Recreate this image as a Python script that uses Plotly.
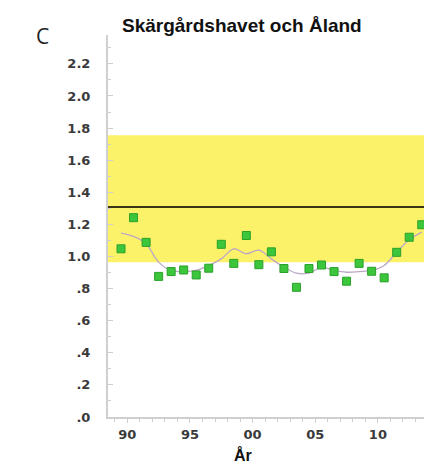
import plotly.graph_objects as go

# Data
years = list(range(1989, 2014))
values = [1.048, 1.242, 1.088, 0.876, 0.906, 0.916, 0.885, 0.927, 1.076, 0.957, 1.131, 0.949,
          1.029, 0.925, 0.808, 0.925, 0.947, 0.906, 0.846, 0.957, 0.908, 0.867, 1.026, 1.120, 1.198]
smooth = [1.146, 1.125, 1.079, 0.965, 0.913, 0.906, 0.913, 0.944, 0.985, 1.048, 1.017, 1.040,
          0.985, 0.933, 0.896, 0.896, 0.933, 0.913, 0.902, 0.906, 0.913, 0.944, 1.027, 1.104, 1.152]
band_low, band_high = 0.964, 1.756
ref_line = 1.308
x_ticks = [1990, 1995, 2000, 2005, 2010]
x_ticktext = ["90", "95", "00", "05", "10"]
y_ticks = [0.0, 0.2, 0.4, 0.6, 0.8, 1.0, 1.2, 1.4, 1.6, 1.8, 2.0, 2.2]
y_ticktext = [".0", ".2", ".4", ".6", ".8", "1.0", "1.2", "1.4", "1.6", "1.8", "2.0", "2.2"]

xpos = [y + 0.5 for y in years]  # mid-year positions

fig = go.Figure()
fig.add_shape(type="rect", xref="paper", yref="y", x0=0, x1=1, y0=band_low, y1=band_high,
              fillcolor="#fbf26a", line_width=0, layer="below")
fig.add_shape(type="line", xref="paper", yref="y", x0=0, x1=1, y0=ref_line, y1=ref_line,
              line=dict(color="#3a3410", width=2))
fig.add_trace(go.Scatter(x=xpos, y=smooth, mode="lines", line=dict(color="#bba8c4", width=1.3, shape="spline"),
                         hoverinfo="skip"))
fig.add_trace(go.Scatter(x=xpos, y=values, mode="markers",
                         marker=dict(symbol="square", size=8, color="#3cc63c",
                                     line=dict(color="#2aa02a", width=1)),
                         cliponaxis=False))

fig.update_layout(
    width=424, height=464,
    margin=dict(l=108, r=0, t=35, b=47),
    paper_bgcolor="white", plot_bgcolor="white",
    showlegend=False,
    font=dict(family="Liberation Sans, Arial", color="#333"),
    annotations=[
        dict(text="<b>Skärgårdshavet och Åland</b>", xref="paper", yref="paper",
             x=(242 - 108) / 316, y=(417 - 25) / 382, showarrow=False,
             font=dict(size=19, color="#111"), xanchor="center", yanchor="middle"),
        dict(text="C", xref="paper", yref="paper", x=(34 - 108) / 316, y=(417 - 36) / 382,
             showarrow=False, font=dict(size=21, color="#222", family="Open Sans"),
             xanchor="left", yanchor="middle"),
        dict(text="<b>År</b>", xref="paper", yref="paper", x=(243 - 108) / 316, y=(417 - 455) / 382,
             showarrow=False, font=dict(size=16, color="#111"), xanchor="center", yanchor="middle"),
    ],
)
fig.update_xaxes(range=[1988.46, 2013.68], showgrid=False, zeroline=False,
                 showline=True, linecolor="#cfcfcf", linewidth=2,
                 tickvals=x_ticks, ticktext=x_ticktext, ticks="outside", ticklen=4,
                 tickcolor="#cfcfcf",
                 minor=dict(dtick=1, tick0=1990, ticks="outside", ticklen=3, tickcolor="#cfcfcf"),
                 tickfont=dict(size=13, color="#3a3a3a", family="DejaVu Sans", weight="bold"))
fig.update_yaxes(range=[0, 2.38], showgrid=False, zeroline=False,
                 showline=True, linecolor="#cfcfcf", linewidth=2,
                 tickvals=y_ticks, ticktext=y_ticktext, ticks="inside", ticklen=5,
                 tickcolor="#cfcfcf",
                 minor=dict(dtick=0.1, tick0=0, ticks="inside", ticklen=3, tickcolor="#cfcfcf"),
                 tickfont=dict(size=13, color="#3a3a3a", family="DejaVu Sans", weight="bold"),
                 ticklabelstandoff=13)

fig.write_html("out.html", config={"displayModeBar": False},
               post_script="document.body.style.margin='0';document.documentElement.style.overflow='hidden';")
